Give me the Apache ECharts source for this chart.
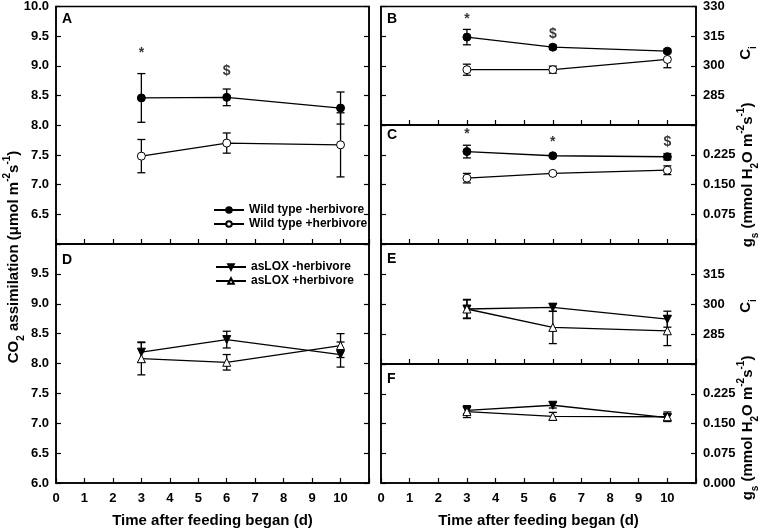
<!DOCTYPE html>
<html><head><meta charset="utf-8">
<script src="https://cdn.jsdelivr.net/npm/echarts@6/dist/echarts.min.js"></script>
<style>html,body{margin:0;padding:0;background:#fff}#c{width:763px;height:530px}</style>
</head><body><div id="c"></div>
<script>
// ---- data ----
const days = [3, 6, 10];
const wtMinusName = 'Wild type -herbivore';
const wtPlusName = 'Wild type +herbivore';
const loxMinusName = 'asLOX -herbivore';
const loxPlusName = 'asLOX +herbivore';
// A: CO2 assimilation, wild type
const aWtMinus = [8.46, 8.47, 8.29];
const aWtMinusErr = [0.41, 0.14, 0.27];
const aWtPlus = [7.48, 7.70, 7.67];
const aWtPlusErr = [0.28, 0.17, 0.54];
// B: Ci, wild type
const bWtMinus = [314.5, 309.4, 307.4];
const bWtMinusErr = [3.9, 1.0, 1.0];
const bWtPlus = [298.0, 298.0, 303.2];
const bWtPlusErr = [2.8, 1.8, 4.2];
// C: gs, wild type
const cWtMinus = [0.233, 0.2225, 0.220];
const cWtMinusErr = [0.016, 0.003, 0.008];
const cWtPlus = [0.166, 0.178, 0.186];
const cWtPlusErr = [0.012, 0.003, 0.011];
// D: CO2 assimilation, asLOX
const dLoxMinus = [8.19, 8.40, 8.15];
const dLoxMinusErr = [0.17, 0.14, 0.21];
const dLoxPlus = [8.08, 8.02, 8.30];
const dLoxPlusErr = [0.27, 0.13, 0.20];
// E: Ci, asLOX
const eLoxMinus = [297.5, 298.3, 292.4];
const eLoxMinusErr = [4.5, 2.0, 4.0];
const eLoxPlus = [297.5, 288.3, 286.6];
const eLoxPlusErr = [4.8, 8.1, 7.4];
// F: gs, asLOX
const fLoxMinus = [0.183, 0.196, 0.165];
const fLoxMinusErr = [0.008, 0.007, 0.008];
const fLoxPlus = [0.180, 0.168, 0.167];
const fLoxPlusErr = [0.015, 0.010, 0.012];
// significance marks [day, y, symbol]
const sigA = [[3, 9.21, '*'], [6, 8.91, '$']];
const sigB = [[3, 323.4, '*'], [6, 316.0, '$']];
const sigC = [[3, 0.277, '*'], [6, 0.257, '*'], [10, 0.257, '$']];
// axis ranges
const xMin = 0, xMax = 11, xStep = 1;
const co2Range = [6, 10, 0.5];
const ciRange = [270, 330, 15];
const gsRange = [0, 0.3, 0.075];
const panelLetters = ['A', 'D', 'B', 'C', 'E', 'F'];
const xTitle = 'Time after feeding began (d)';

// ---- layout ----
const FONT = 'Liberation Sans, Arial, sans-serif';
const layout = [
  {left: 56, top: 6, width: 313, height: 238},   // A
  {left: 56, top: 244, width: 313, height: 239}, // D
  {left: 381, top: 6, width: 315, height: 119},  // B
  {left: 381, top: 125, width: 315, height: 119},// C
  {left: 381, top: 244, width: 315, height: 120},// E
  {left: 381, top: 364, width: 315, height: 119} // F
];
const labelSide = ['left', 'left', 'right', 'right', 'right', 'right'];
const ranges = [co2Range, co2Range, ciRange, gsRange, ciRange, gsRange];
const hideLabel = [
  v => Math.abs(v - 6) < 1e-9,
  v => Math.abs(v - 10) < 1e-9,
  v => Math.abs(v - 270) < 1e-9,
  v => v < 1e-9 || v > 0.2999,
  v => Math.abs(v - 270) < 1e-9 || Math.abs(v - 330) < 1e-9,
  v => v > 0.2999
];
const decimals = [1, 1, 0, 3, 0, 3];
const showX = [false, true, false, false, false, true];

const grid = [], xAxis = [], yAxis = [], series = [];
layout.forEach((g, i) => {
  grid.push(Object.assign({show: true, borderColor: '#000', borderWidth: 1.5, backgroundColor: 'transparent'}, g));
  xAxis.push({
    type: 'value', gridIndex: i, min: xMin, max: xMax, interval: xStep,
    axisLine: {show: true, lineStyle: {color: '#000', width: 1.5}},
    axisTick: {show: true, inside: true, length: 5, lineStyle: {color: '#000', width: 1.2}},
    axisLabel: {show: showX[i], margin: 9, color: '#000', fontFamily: FONT, fontWeight: 'bold', fontSize: 13,
      formatter: v => (v === 11 ? '' : String(v))},
    splitLine: {show: false},
    name: showX[i] ? xTitle : '', nameLocation: 'middle', nameGap: 30,
    nameTextStyle: {color: '#000', fontFamily: FONT, fontWeight: 'bold', fontSize: 15}
  });
  const r = ranges[i];
  ['left', 'right'].forEach(pos => {
    const labelled = pos === labelSide[i];
    yAxis.push({
      type: 'value', gridIndex: i, position: pos, min: r[0], max: r[1], interval: r[2],
      axisLine: {show: true, lineStyle: {color: '#000', width: 1.5}},
      axisTick: {show: true, inside: true, length: 5, lineStyle: {color: '#000', width: 1.2}},
      axisLabel: {show: labelled, margin: 7, color: '#000', fontFamily: FONT, fontWeight: 'bold', fontSize: 13,
        formatter: v => (hideLabel[i](v) ? '' : v.toFixed(decimals[i]))},
      splitLine: {show: false}
    });
  });
});

function errRender(params, api) {
  const x = api.value(0), lo = api.value(1), hi = api.value(2);
  const p1 = api.coord([x, hi]), p2 = api.coord([x, lo]);
  const w = 4;
  const style = {stroke: '#000', lineWidth: 1.3};
  return {type: 'group', children: [
    {type: 'line', shape: {x1: p1[0], y1: p1[1], x2: p2[0], y2: p2[1]}, style},
    {type: 'line', shape: {x1: p1[0] - w, y1: p1[1], x2: p1[0] + w, y2: p1[1]}, style},
    {type: 'line', shape: {x1: p2[0] - w, y1: p2[1], x2: p2[0] + w, y2: p2[1]}, style}
  ]};
}

const markerStyles = {
  wtMinus: {symbol: 'circle', symbolSize: 8, symbolRotate: 0, fill: '#000'},
  wtPlus: {symbol: 'circle', symbolSize: 8, symbolRotate: 0, fill: '#fff'},
  loxMinus: {symbol: 'triangle', symbolSize: 8, symbolRotate: 180, fill: '#000'},
  loxPlus: {symbol: 'triangle', symbolSize: 8, symbolRotate: 0, fill: '#fff'}
};

function addSeries(gi, name, kind, means, errs) {
  const yIdx = 2 * gi + (labelSide[gi] === 'left' ? 0 : 1);
  series.push({
    type: 'custom', xAxisIndex: gi, yAxisIndex: yIdx, renderItem: errRender, silent: true, z: 2,
    encode: {x: 0, y: [1, 2]},
    data: days.map((d, k) => [d, means[k] - errs[k], means[k] + errs[k]])
  });
  const m = markerStyles[kind];
  series.push({
    type: 'line', name, xAxisIndex: gi, yAxisIndex: yIdx, z: 3,
    data: days.map((d, k) => [d, means[k]]),
    symbol: m.symbol, symbolSize: m.symbolSize, symbolRotate: m.symbolRotate, showSymbol: true,
    lineStyle: {color: '#000', width: 1.3},
    itemStyle: {color: m.fill, borderColor: '#000', borderWidth: 1},
    animation: false
  });
}
function addSig(gi, arr) {
  const yIdx = 2 * gi + (labelSide[gi] === 'left' ? 0 : 1);
  series.push({
    type: 'scatter', xAxisIndex: gi, yAxisIndex: yIdx, symbolSize: 1, silent: true,
    itemStyle: {color: 'rgba(0,0,0,0)'},
    data: arr,
    label: {show: true, position: 'inside', formatter: p => p.data[2], color: '#000',
      fontFamily: FONT, fontWeight: 'bold', fontSize: 14}
  });
}

addSeries(0, wtMinusName, 'wtMinus', aWtMinus, aWtMinusErr);
addSeries(0, wtPlusName, 'wtPlus', aWtPlus, aWtPlusErr);
addSeries(2, wtMinusName, 'wtMinus', bWtMinus, bWtMinusErr);
addSeries(2, wtPlusName, 'wtPlus', bWtPlus, bWtPlusErr);
addSeries(3, wtMinusName, 'wtMinus', cWtMinus, cWtMinusErr);
addSeries(3, wtPlusName, 'wtPlus', cWtPlus, cWtPlusErr);
addSeries(1, loxMinusName, 'loxMinus', dLoxMinus, dLoxMinusErr);
addSeries(1, loxPlusName, 'loxPlus', dLoxPlus, dLoxPlusErr);
addSeries(4, loxMinusName, 'loxMinus', eLoxMinus, eLoxMinusErr);
addSeries(4, loxPlusName, 'loxPlus', eLoxPlus, eLoxPlusErr);
addSeries(5, loxMinusName, 'loxMinus', fLoxMinus, fLoxMinusErr);
addSeries(5, loxPlusName, 'loxPlus', fLoxPlus, fLoxPlusErr);
addSig(0, sigA);
addSig(2, sigB);
addSig(3, sigC);

const legendText = {color: '#000', fontFamily: FONT, fontWeight: 'bold', fontSize: 12};
const legend = [
  {left: 213, top: 204, orient: 'vertical', itemGap: 2, itemWidth: 30, itemHeight: 7, padding: 0,
    selectedMode: false, data: [wtMinusName, wtPlusName], textStyle: legendText},
  {left: 215, top: 261, orient: 'vertical', itemGap: 2, itemWidth: 30, itemHeight: 7, padding: 0,
    selectedMode: false, data: [loxMinusName, loxPlusName], textStyle: legendText}
];

const rich = {
  a: {fontFamily: FONT, fontWeight: 'bold', fontSize: 15, lineHeight: 24, verticalAlign: 'middle', fill: '#000', color: '#000'},
  s: {fontFamily: FONT, fontWeight: 'bold', fontSize: 10, lineHeight: 10, verticalAlign: 'bottom', fill: '#000', color: '#000'},
  u: {fontFamily: FONT, fontWeight: 'bold', fontSize: 10, lineHeight: 10, verticalAlign: 'top', fill: '#000', color: '#000'}
};
function vText(x, y, text) {
  return {type: 'text', x, y, rotation: Math.PI / 2, silent: true,
    style: {text, rich, align: 'center', verticalAlign: 'middle', fill: '#000',
      font: 'bold 15px ' + FONT}};
}
const letterPos = [[62, 12], [62, 253], [387, 12], [387, 128], [387, 252], [387, 372]];
const graphic = [
  vText(14, 257, '{a|CO}{s|2}{a| assimilation (μmol m}{u|-2}{a|s}{u|-1}{a|)}'),
  vText(746, 53, '{a|C}{s|i}'),
  vText(748, 175, '{a|g}{s|s}{a| (mmol H}{s|2}{a|O m}{u|-2}{a|s}{u|-1}{a|)}'),
  vText(746, 306, '{a|C}{s|i}'),
  vText(748, 428, '{a|g}{s|s}{a| (mmol H}{s|2}{a|O m}{u|-2}{a|s}{u|-1}{a|)}')
];
panelLetters.forEach((t, i) => {
  graphic.push({type: 'text', x: letterPos[i][0], y: letterPos[i][1], silent: true,
    style: {text: t, fill: '#000', font: 'bold 14px ' + FONT}});
});

const chart = echarts.init(document.getElementById('c'), null, {renderer: 'canvas'});
chart.setOption({animation: false, backgroundColor: '#fff', grid, xAxis, yAxis, series, legend, graphic});
</script></body></html>
